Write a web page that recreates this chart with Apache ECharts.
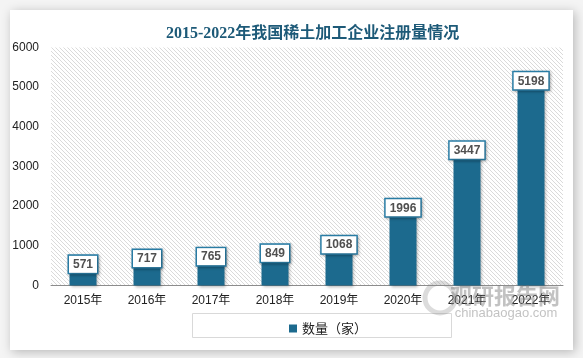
<!DOCTYPE html>
<html><head><meta charset="utf-8">
<script src="https://cdn.jsdelivr.net/npm/echarts@6/dist/echarts.min.js"></script>
<style>html,body{margin:0;padding:0;background:#f4f4f4}#c{width:583px;height:358px}</style>
</head><body><div id="c"></div>
<script>
var categories = ['2015年','2016年','2017年','2018年','2019年','2020年','2021年','2022年'];
var counts = [571, 717, 765, 849, 1068, 1996, 3447, 5198];
var yTicks = [0, 1000, 2000, 3000, 4000, 5000, 6000];

var pc = document.createElement('canvas');
pc.width = 4; pc.height = 4;
var g = pc.getContext('2d');
g.fillStyle = '#ffffff'; g.fillRect(0,0,4,4);
g.strokeStyle = '#dadada'; g.lineWidth = 1;
g.beginPath(); g.moveTo(0,0); g.lineTo(4,4); g.moveTo(-1,3); g.lineTo(1,5); g.moveTo(3,-1); g.lineTo(5,1); g.stroke();

var chart = echarts.init(document.getElementById('c'));
chart.setOption({
  backgroundColor: '#f4f4f4',
  animation: false,
  title: {
    text: '2015-2022年我国稀土加工企业注册量情况',
    left: 161, top: 21,
    textStyle: { fontFamily: '"Liberation Serif","Noto Sans CJK SC"', fontSize: 16, fontWeight: 'bold', color: '#1d5a78' }
  },
  graphic: [
    { type: 'rect', z: -10, silent: true, shape: { x: 10, y: 10, width: 563, height: 340 },
      style: { fill: '#ffffff', shadowBlur: 10, shadowColor: 'rgba(0,0,0,0.25)', shadowOffsetX: 2, shadowOffsetY: 2 } },
    { type: 'rect', z: -9, silent: true, shape: { x: 51, y: 47.5, width: 512, height: 238 },
      style: { fill: { image: pc, repeat: 'repeat' } } },
    { type: 'rect', z: -8, silent: true, shape: { x: 192.5, y: 313.5, width: 259, height: 24 },
      style: { fill: '#ffffff', stroke: '#d9d9d9', lineWidth: 1 } },
    { type: 'circle', z: 50, silent: true, shape: { cx: 440, cy: 298, r: 15 },
      style: { fill: 'none', stroke: 'rgba(140,140,140,0.3)', lineWidth: 5 } },
    { type: 'text', z: 50, silent: true, style: { x: 505, y: 296, text: '观研报告网', fontSize: 22, fontWeight: 'bold', fill: 'rgba(120,120,120,0.45)', textAlign: 'center', textVerticalAlign: 'middle', fontFamily: '"Noto Sans CJK SC"' } },
    { type: 'text', z: 50, silent: true, style: { x: 506, y: 313, text: 'chinabaogao.com', fontSize: 13, fill: 'rgba(120,120,120,0.45)', textAlign: 'center', textVerticalAlign: 'middle', fontFamily: '"Liberation Sans"' } }
  ],
  grid: { left: 51, right: 20, top: 47.5, bottom: 72.5, containLabel: false },
  legend: {
    data: ['数量（家）'], left: 284, top: 317, icon: 'rect', itemWidth: 8, itemHeight: 8, itemGap: 6,
    textStyle: { fontSize: 13, color: '#222', fontFamily: '"Noto Sans CJK SC"' }
  },
  xAxis: {
    type: 'category', data: categories,
    axisLine: { lineStyle: { color: '#8c8c8c', width: 1 } },
    axisTick: { show: false },
    axisLabel: { color: '#222', fontSize: 12, margin: 9, fontFamily: '"Liberation Sans","Noto Sans CJK SC"' }
  },
  yAxis: {
    type: 'value', min: yTicks[0], max: yTicks[yTicks.length-1], interval: 1000,
    axisLine: { show: false }, axisTick: { show: false }, splitLine: { show: false },
    axisLabel: { color: '#222', fontSize: 12, margin: 12, fontFamily: '"Liberation Sans"', formatter: function (v) { return String(v); } }
  },
  series: [{
    name: '数量（家）', type: 'bar', data: counts, barWidth: 27,
    itemStyle: { color: '#1c6a8e', shadowBlur: 3, shadowColor: 'rgba(0,0,0,0.3)', shadowOffsetX: 1, shadowOffsetY: 1 },
    label: {
      show: true, position: 'top', distance: -10,
      backgroundColor: '#ffffff', borderColor: '#2b7fa8', borderWidth: 1.5,
      padding: [3, 4, 2, 4], color: '#505050', fontSize: 12, fontWeight: 'bold',
      fontFamily: '"Liberation Sans"',
      shadowBlur: 3, shadowColor: 'rgba(0,0,0,0.3)', shadowOffsetX: 1, shadowOffsetY: 1
    }
  }]
});
</script></body></html>
